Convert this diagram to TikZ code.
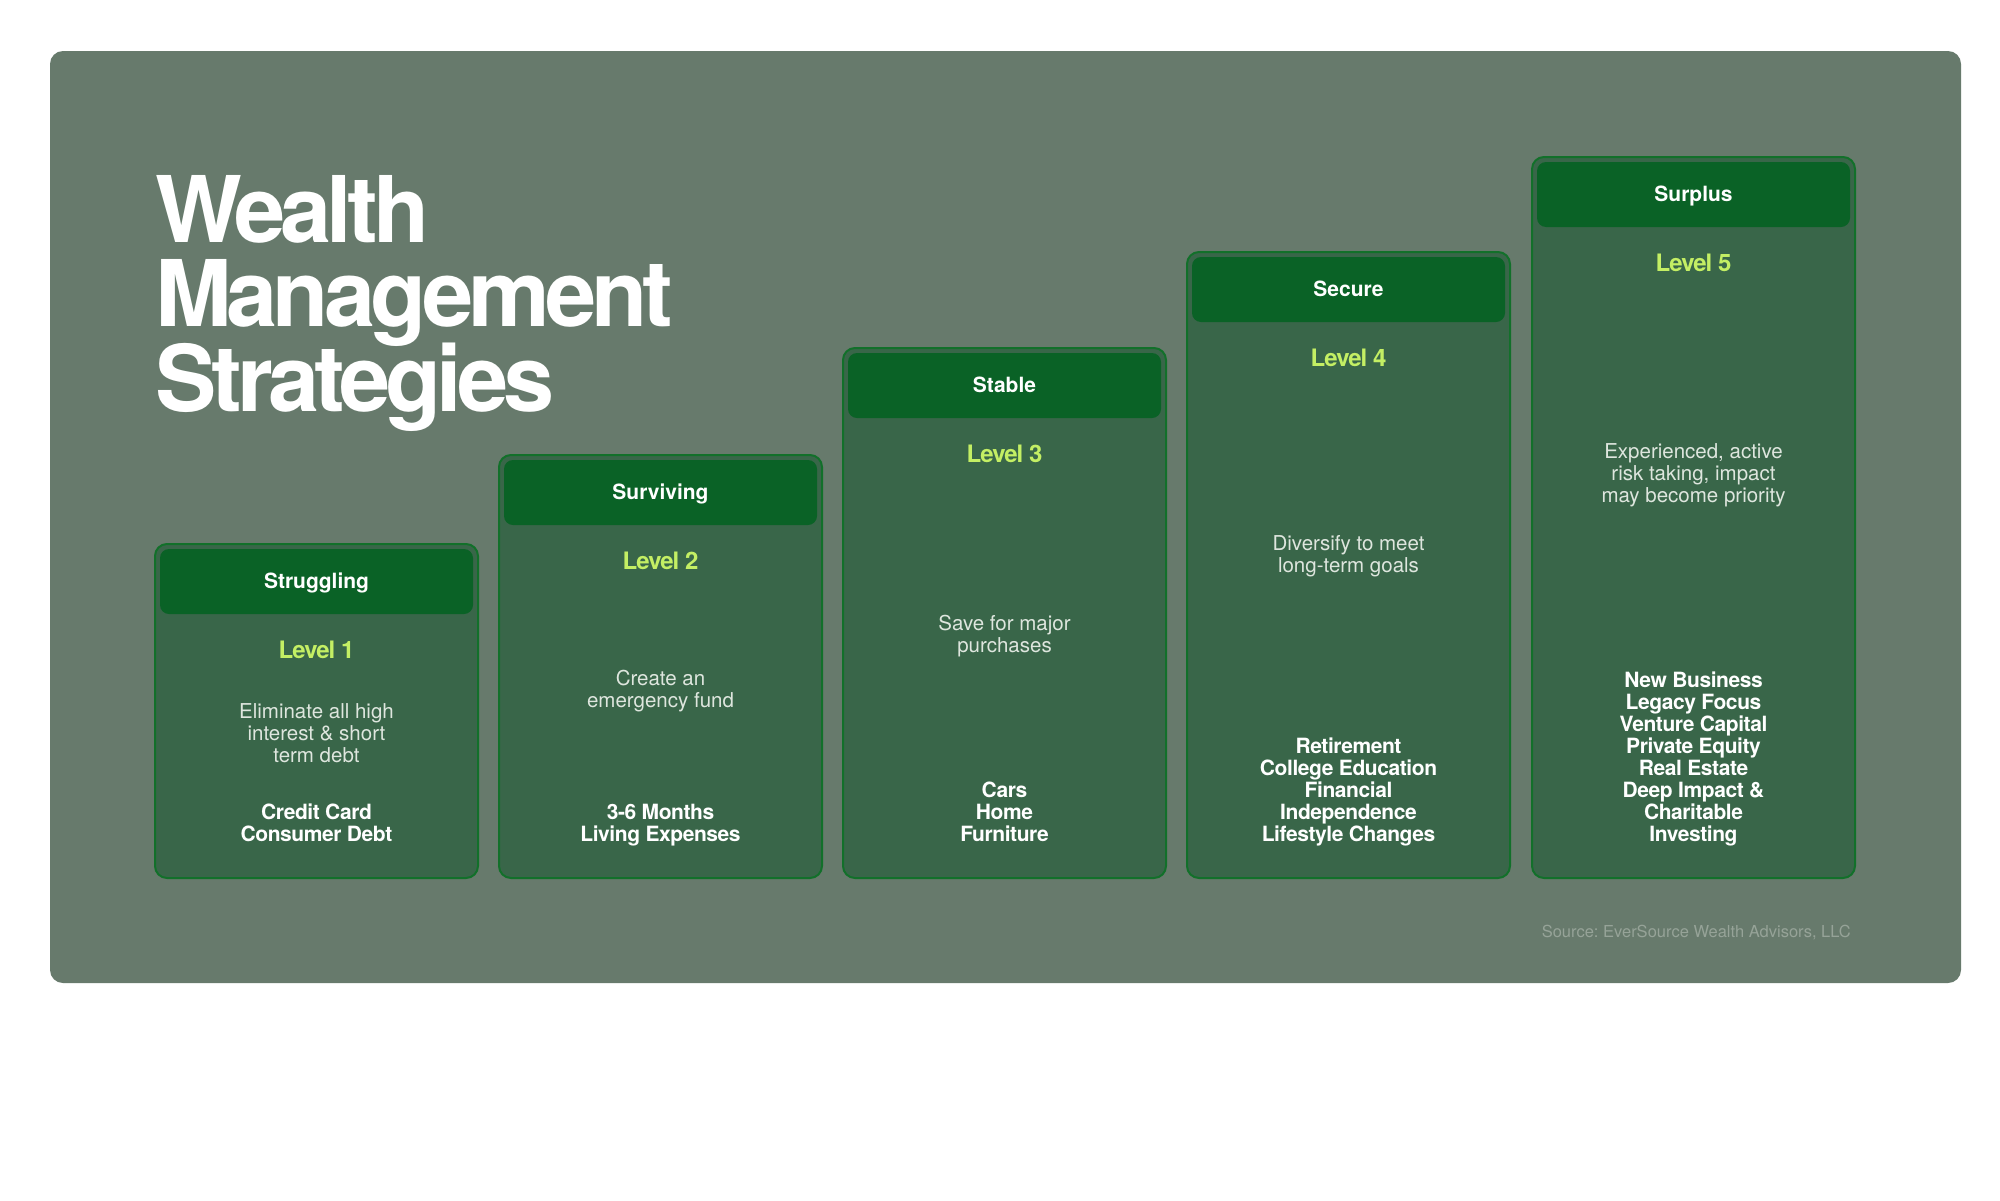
\documentclass[tikz,border=0pt]{standalone}
\usepackage{fontspec}
\setmainfont{TeX Gyre Heros}
\newfontfamily\titlefont[LetterSpace=-5.5]{TeX Gyre Heros}
\newfontfamily\lvlfont[LetterSpace=-4]{TeX Gyre Heros}
\newfontfamily\listfont[LetterSpace=-2]{TeX Gyre Heros}
\frenchspacing
\definecolor{panelc}{RGB}{103,122,108}
\definecolor{cardfill}{RGB}{57,102,73}
\definecolor{cardline}{RGB}{18,112,42}
\definecolor{headfill}{RGB}{10,98,38}
\definecolor{lvlcol}{RGB}{196,239,100}
\definecolor{desccol}{RGB}{222,230,222}
\definecolor{srccol}{RGB}{150,163,152}
\tikzset{
  panel/.style={fill=panelc, rounded corners=13pt},
  card/.style={draw=cardline, line width=2pt, fill=cardfill, rounded corners=12pt},
  headbox/.style={fill=headfill, rounded corners=9pt},
  titletxt/.style={anchor=base west, inner sep=0pt, text=white, font=\titlefont\bfseries\fontsize{92}{84}\selectfont},
  headtxt/.style={anchor=base, inner sep=0pt, text=white, font=\bfseries\fontsize{21}{25}\selectfont},
  lvltxt/.style={anchor=base, inner sep=0pt, text=lvlcol, font=\lvlfont\bfseries\fontsize{24}{28}\selectfont},
  desctxt/.style={anchor=base, inner sep=0pt, align=center, text=desccol, font=\fontsize{20.5}{22}\selectfont},
  listtxt/.style={anchor=base, inner sep=0pt, align=center, text=white, font=\listfont\bfseries\fontsize{21}{22}\selectfont},
  srctxt/.style={anchor=base east, inner sep=0pt, text=srccol, font=\fontsize{16.5}{20}\selectfont}
}
\begin{document}
\begin{tikzpicture}[x=1pt,y=-1pt]
\useasboundingbox (0,0) rectangle (2000,1200);
\fill[white] (0,0) rectangle (2000,1200);
\fill[panel] (50,51) rectangle (1961,983);

\node[titletxt] (t1) at (155,242) {Wealth};
\node[titletxt] (t2) at (155,326) {Management};
\node[titletxt] (t3) at (155,411) {Strategies};

% cards: left x, top y ; width 323, bottom 878
\foreach \nm/\lx/\ty in {c1/155/544, c2/499/455, c3/843/348, c4/1187/252, c5/1532/157}{
  \draw[card] (\lx,\ty) rectangle ++(323,878-\ty);
  \fill[headbox] (\lx+5,\ty+5) rectangle ++(313,65);
}

% headers
\node[headtxt] (h1) at (316.5,588) {Struggling};
\node[headtxt] (h2) at (660.5,499) {Surviving};
\node[headtxt] (h3) at (1004.5,392) {Stable};
\node[headtxt] (h4) at (1348.5,296) {Secure};
\node[headtxt] (h5) at (1693.5,201) {Surplus};

% levels
\node[lvltxt] (l1) at (316.5,658) {Level 1};
\node[lvltxt] (l2) at (660.5,569) {Level 2};
\node[lvltxt] (l3) at (1004.5,462) {Level 3};
\node[lvltxt] (l4) at (1348.5,366) {Level 4};
\node[lvltxt] (l5) at (1693.5,271) {Level 5};

% descriptions (anchor = baseline of last line)
\node[desctxt] (d1) at (316.5,762) {Eliminate all high\\interest \& short\\term debt};
\node[desctxt] (d2) at (660.5,707) {Create an\\emergency fund};
\node[desctxt] (d3) at (1004.5,652) {Save for major\\purchases};
\node[desctxt] (d4) at (1348.5,572) {Diversify to meet\\long-term goals};
\node[desctxt] (d5) at (1693.5,502) {Experienced, active\\risk taking, impact\\may become priority};

% lists (anchor = baseline of last line)
\node[listtxt] (s1) at (316.5,841) {Credit Card\\Consumer Debt};
\node[listtxt] (s2) at (660.5,841) {3-6 Months\\Living Expenses};
\node[listtxt] (s3) at (1004.5,841) {Cars\\Home\\Furniture};
\node[listtxt] (s4) at (1348.5,841) {Retirement\\College Education\\Financial\\Independence\\Lifestyle Changes};
\node[listtxt] (s5) at (1693.5,841) {New Business\\Legacy Focus\\Venture Capital\\Private Equity\\Real Estate\\Deep Impact \&\\Charitable\\Investing};

\node[srctxt] (src) at (1851,937) {Source: EverSource Wealth Advisors, LLC};
\end{tikzpicture}
\end{document}
